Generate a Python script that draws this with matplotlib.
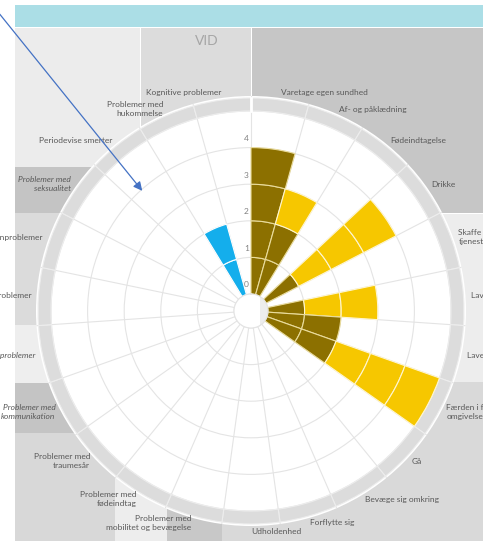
import numpy as np
import matplotlib.pyplot as plt
from matplotlib.patches import Rectangle

plt.rcParams['font.family'] = ['Lato', 'DejaVu Sans']

categories = ["Varetage egen sundhed", "Af- og påklædning", "Fødeindtagelse", "Drikke",
              "Skaffe sig varer og\ntjenester", "Lave mad", "Lave almindeligt husarbejde",
              "Færden i forskellige\nomgivelser", "Gå", "Bevæge sig omkring", "Forflytte sig",
              "Udholdenhed", "Problemer med\nmobilitet og bevægelse", "Problemer med\nfødeindtag",
              "Problemer med\ntraumesår", "Problemer med\nkommunikation", "Emotionelle problemer",
              "Mentale problemer", "Søvnproblemer", "Problemer med\nseksualitet",
              "Periodevise smerter", "Problemer med\nhukommelse", "Kognitive problemer"]
italic_labels = [15, 16, 19]

# stacked unit scores per category
brown = [4, 2, 0, 1, 0, 1, 2, 2, 0, 0, 0, 0, 0, 0, 0, 0, 0, 0, 0, 0, 0, 0, 0]
yellow = [0, 1, 0, 3, 0, 2, 0, 3, 0, 0, 0, 0, 0, 0, 0, 0, 0, 0, 0, 0, 0, 0, 0]
blue = [0, 0, 0, 0, 0, 0, 0, 0, 0, 0, 0, 0, 0, 0, 0, 0, 0, 0, 0, 0, 0, 2, 0]
rticks = [0, 1, 2, 3, 4]

# slide background blocks (pixels): x0, y0, x1, y1, colour
blocks = [(15, 5, 483, 27, '#abdee6'),
          (15, 28, 140, 167, '#ececec'),
          (141, 28, 251, 220, '#dcdcdc'),
          (252, 28, 483, 213, '#c6c6c6'),
          (15, 167, 140, 213, '#c4c4c4'),
          (15, 213, 140, 325, '#dbdbdb'),
          (15, 325, 140, 383, '#eeeeee'),
          (15, 383, 140, 433, '#c4c4c4'),
          (15, 433, 140, 541, '#d8d8d8'),
          (115, 478, 167, 541, '#ededed'),
          (167, 508, 222, 541, '#c8c8c8'),
          (222, 382, 483, 541, '#d9d9d9'),
          (260, 214, 483, 382, '#ededed')]

W, H = 483, 541
fig = plt.figure(figsize=(W / 100, H / 100), dpi=100)

bg = fig.add_axes([0, 0, 1, 1], zorder=0)
bg.set_xlim(0, W)
bg.set_ylim(H, 0)
bg.axis('off')
for x0, y0, x1, y1, c in blocks:
    bg.add_patch(Rectangle((x0, y0), x1 - x0, y1 - y0, color=c, lw=0))
bg.text(207, 41, 'VID', ha='center', va='center', fontsize=10, color='#a6a6a6')

# polar chart
cx, cy, R = 251, 311, 215
hole, unit = 17, 36.6
ax = fig.add_axes([(cx - R) / W, (H - cy - R) / H, 2 * R / W, 2 * R / H],
                  projection='polar', zorder=1)
ax.set_theta_zero_location('N')
ax.set_theta_direction(-1)
ax.set_ylim(0, (R - hole) / unit)
ax.set_rorigin(-hole / unit)

n = len(categories)
step = 2 * np.pi / n
theta = (np.arange(n) + 0.5) * step

ax.set_xticks(np.arange(n) * step)
ax.set_yticks(range(6))
ax.set_xticklabels([])
ax.set_yticklabels([])
ax.tick_params(length=0)
ax.grid(color='#e4e4e4', lw=0.8)
for sp in ax.spines.values():
    sp.set_color('#e4e4e4')
    sp.set_linewidth(0.8)
ax.spines['polar'].set_visible(False)
ax.set_axisbelow(True)

# outer ring
ax.bar(theta, 0.355, width=step, bottom=5.0, color='#dcdcdc', edgecolor='#ededed', lw=0.8)
ax.plot([0, 0], [5.0, 5.36], color='white', lw=2)

for i in range(n):
    for k in range(brown[i]):
        ax.bar(theta[i], 1, width=step, bottom=k, color='#8c7000', edgecolor='#eadc9c', lw=0.8)
    for k in range(brown[i], brown[i] + yellow[i]):
        ax.bar(theta[i], 1, width=step, bottom=k, color='#f6c700', edgecolor='#fff6d0', lw=0.8)
    for k in range(blue[i]):
        ax.bar(theta[i], 1, width=step, bottom=k, color='#14aeec', edgecolor='white', lw=0.8)

for v in rticks:
    ax.annotate(str(v), xy=(0, v), xytext=(-1.5, 6.5), textcoords='offset points',
                ha='right', va='center', fontsize=6, color='#808080')

for i, lab in enumerate(categories):
    deg = np.degrees(theta[i])
    ax.text(theta[i], 5.55, lab, ha='left' if deg < 181 else 'right', va='center',
            fontsize=6, color='#595959', linespacing=1.35,
            style='italic' if i in italic_labels else 'normal')

# pointer arrow on top
ov = fig.add_axes([0, 0, 1, 1], zorder=3)
ov.set_xlim(0, W)
ov.set_ylim(H, 0)
ov.axis('off')
ov.patch.set_alpha(0)
ov.annotate('', xy=(144, 193), xytext=(-2, 12),
            arrowprops=dict(arrowstyle='-|>', color='#4472c4', lw=0.9, mutation_scale=13))

fig.savefig('out.png', dpi=100)
